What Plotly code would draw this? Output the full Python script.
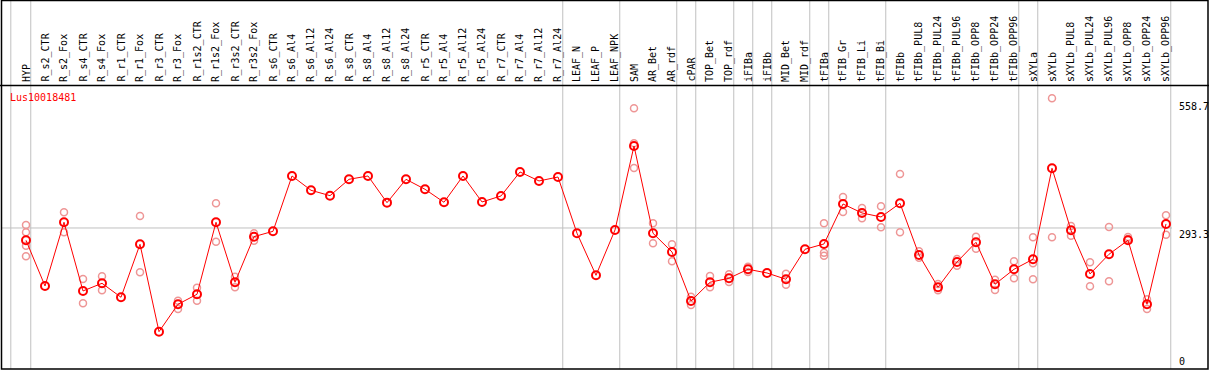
import plotly.graph_objects as go

W, H = 1209, 370

categories = [
    "HYP", "R_s2_CTR", "R_s2_Fox", "R_s4_CTR", "R_s4_Fox", "R_r1_CTR", "R_r1_Fox",
    "R_r3_CTR", "R_r3_Fox", "R_r1s2_CTR", "R_r1s2_Fox", "R_r3s2_CTR", "R_r3s2_Fox",
    "R_s6_CTR", "R_s6_Al4", "R_s6_Al12", "R_s6_Al24", "R_s8_CTR", "R_s8_Al4",
    "R_s8_Al12", "R_s8_Al24", "R_r5_CTR", "R_r5_Al4", "R_r5_Al12", "R_r5_Al24",
    "R_r7_CTR", "R_r7_Al4", "R_r7_Al12", "R_r7_Al24", "LEAF_N", "LEAF_P", "LEAF_NPK",
    "SAM", "AR_Bet", "AR_rdf", "cPAR", "TOP_Bet", "TOP_rdf", "iFIBa", "iFIBb",
    "MID_Bet", "MID_rdf", "tFIBa", "tFIB_Gr", "tFIB_Li", "tFIB_Bi", "tFIBb",
    "tFIBb_PUL8", "tFIBb_PUL24", "tFIBb_PUL96", "tFIBb_OPP8", "tFIBb_OPP24",
    "tFIBb_OPP96", "sXYLa", "sXYLb", "sXYLb_PUL8", "sXYLb_PUL24", "sXYLb_PUL96",
    "sXYLb_OPP8", "sXYLb_OPP24", "sXYLb_OPP96",
]

mean_values = [
    268.1, 174.6, 305.0, 164.4, 180.1, 151.5, 259.9, 81.1, 137.2, 157.6, 305.0,
    182.2, 275.5, 286.5, 399.7, 370.4, 359.4, 392.9, 399.7, 345.1, 392.9, 372.5,
    345.9, 399.7, 346.5, 358.8, 407.9, 389.5, 397.6, 282.5, 196.5, 289.2, 461.1,
    282.5, 244.2, 143.9, 182.2, 190.4, 208.8, 201.2, 188.3, 249.7, 260.6, 342.4,
    324.0, 315.8, 343.8, 238.1, 172.0, 223.7, 264.0, 178.1, 208.8, 229.3, 415.5,
    288.6, 199.2, 239.5, 268.1, 137.2, 301.5,
]

# individual replicate values (category, value)
replicate_cats = [
    "HYP", "HYP", "HYP", "HYP",
    "R_s2_Fox", "R_s2_Fox",
    "R_s4_CTR", "R_s4_CTR",
    "R_s4_Fox", "R_s4_Fox",
    "R_r1_Fox", "R_r1_Fox",
    "R_r3_Fox", "R_r3_Fox",
    "R_r1s2_CTR", "R_r1s2_CTR",
    "R_r1s2_Fox", "R_r1s2_Fox",
    "R_r3s2_CTR", "R_r3s2_CTR",
    "R_r3s2_Fox", "R_r3s2_Fox",
    "SAM", "SAM", "SAM",
    "AR_Bet", "AR_Bet",
    "AR_rdf", "AR_rdf",
    "cPAR", "cPAR",
    "TOP_Bet", "TOP_Bet",
    "TOP_rdf", "TOP_rdf",
    "iFIBa", "iFIBa",
    "MID_Bet", "MID_Bet",
    "tFIBa", "tFIBa", "tFIBa",
    "tFIB_Gr", "tFIB_Gr",
    "tFIB_Li", "tFIB_Li",
    "tFIB_Bi", "tFIB_Bi",
    "tFIBb", "tFIBb",
    "tFIBb_PUL8", "tFIBb_PUL8",
    "tFIBb_PUL24", "tFIBb_PUL24",
    "tFIBb_PUL96", "tFIBb_PUL96",
    "tFIBb_OPP8", "tFIBb_OPP8",
    "tFIBb_OPP24", "tFIBb_OPP24",
    "tFIBb_OPP96", "tFIBb_OPP96",
    "sXYLa", "sXYLa", "sXYLa",
    "sXYLb", "sXYLb",
    "sXYLb_PUL8", "sXYLb_PUL8",
    "sXYLb_PUL24", "sXYLb_PUL24",
    "sXYLb_PUL96", "sXYLb_PUL96",
    "sXYLb_OPP8", "sXYLb_OPP8",
    "sXYLb_OPP24", "sXYLb_OPP24",
    "sXYLb_OPP96", "sXYLb_OPP96",
]
replicate_values = [
    299.4, 284.5, 257.1, 235.4,
    325.4, 284.5,
    189.0, 139.2,
    194.5, 165.8,
    317.9, 202.7,
    144.6, 127.6,
    171.1, 144.6,
    343.8, 265.3,
    193.7, 172.0,
    282.5, 267.3,
    538.2, 466.6, 416.1,
    302.9, 262.0,
    259.9, 225.2,
    152.7, 135.8,
    195.1, 172.0,
    198.6, 182.8,
    214.1, 203.3,
    199.8, 177.3,
    302.9, 242.8, 236.6,
    356.7, 326.0,
    334.2, 313.1,
    337.7, 294.7,
    403.8, 284.5,
    245.6, 232.5,
    178.7, 165.8,
    229.9, 216.2,
    275.5, 250.9,
    187.5, 166.4,
    225.2, 190.4,
    274.3, 221.1, 188.3,
    558.7, 274.3,
    297.4, 277.5,
    223.1, 174.0,
    295.3, 184.2,
    274.9, 270.8,
    147.4, 127.6,
    319.3, 279.6,
]

# last category of each sample group (a separator is drawn after it)
group_last = ["HYP", "R_r7_Al24", "LEAF_NPK", "AR_rdf", "cPAR", "TOP_rdf", "iFIBa",
              "iFIBb", "MID_rdf", "tFIBa", "tFIB_Bi", "tFIBb_OPP96", "sXYLa",
              "sXYLb_OPP96"]

gene_name = "Lus10018481"
axis_ticks = [558.7, 293.3, 0]
ref_line_value = 293.3

idx = {c: i for i, c in enumerate(categories)}
FONT = "DejaVu Sans Mono"
GRID = "#c0c0c0"


def px(x):
    return x / W


def py(y):
    return 1 - y / H


fig = go.Figure()

fig.add_trace(go.Scatter(
    x=[idx[c] for c in replicate_cats], y=replicate_values, mode="markers",
    marker=dict(symbol="circle-open", size=7, color="rgb(238,150,150)",
                line=dict(width=1.5, color="rgb(238,150,150)")),
    showlegend=False, hoverinfo="skip",
))
fig.add_trace(go.Scatter(
    x=list(range(len(categories))), y=mean_values, mode="lines+markers",
    line=dict(color="#ff0000", width=1),
    marker=dict(symbol="circle-open", size=8, color="#ff0000",
                line=dict(width=2, color="#ff0000")),
    showlegend=False,
))

shapes = []
# group separators
shapes.append(dict(type="line", xref="x", yref="paper", x0=-0.8, x1=-0.8,
                   y0=py(369), y1=1, line=dict(color=GRID, width=1), layer="below"))
for c in group_last:
    xv = idx[c] + 0.25
    shapes.append(dict(type="line", xref="x", yref="paper", x0=xv, x1=xv,
                       y0=py(369), y1=1, line=dict(color=GRID, width=1), layer="below"))
# reference horizontal line
shapes.append(dict(type="line", xref="paper", yref="y", x0=px(2), x1=px(1172),
                   y0=ref_line_value, y1=ref_line_value,
                   line=dict(color=GRID, width=1), layer="below"))
# header separator
shapes.append(dict(type="line", xref="paper", yref="paper", x0=0, x1=1,
                   y0=py(85.5), y1=py(85.5), line=dict(color="black", width=1.5)))
# frame
shapes.append(dict(type="rect", xref="paper", yref="paper", x0=px(1.5), x1=px(1208),
                   y0=py(369), y1=py(0.5), line=dict(color="black", width=1.5)))

annotations = []
for i, c in enumerate(categories):
    annotations.append(dict(x=i, y=py(84), xref="x", yref="paper", text=c,
                            textangle=-90, showarrow=False, xanchor="center",
                            yanchor="bottom", font=dict(family=FONT, size=10, color="black")))
annotations.append(dict(x=px(8), y=py(97.5), xref="paper", yref="paper", text=gene_name,
                        showarrow=False, xanchor="left", yanchor="middle",
                        font=dict(family=FONT, size=10, color="#ff0000")))
for t in axis_ticks:
    if t == 0:
        # the zero level lies just below the visible frame; label is clamped inside
        annotations.append(dict(x=px(1177), y=py(369), xref="paper", yref="paper", text="0",
                                showarrow=False, xanchor="left", yanchor="bottom", yshift=0,
                                font=dict(family=FONT, size=10, color="black")))
    else:
        annotations.append(dict(x=px(1177), y=t, xref="paper", yref="y", text=f"{t}",
                                showarrow=False, xanchor="left", yanchor="top",
                                yshift=-1 if t == max(axis_ticks) else 1,
                                font=dict(family=FONT, size=10, color="black")))

fig.update_layout(
    width=W, height=H, margin=dict(l=0, r=0, t=0, b=0),
    paper_bgcolor="white", plot_bgcolor="white",
    xaxis=dict(range=[-26 / 19, -26 / 19 + W / 19], visible=False, fixedrange=True),
    yaxis=dict(range=[2.66, 759.8], visible=False, fixedrange=True),
    shapes=shapes, annotations=annotations, showlegend=False,
)

fig.write_html(
    "out.html",
    config={"displayModeBar": False},
    post_script="document.body.style.margin='0';document.body.style.overflow='hidden';",
)
